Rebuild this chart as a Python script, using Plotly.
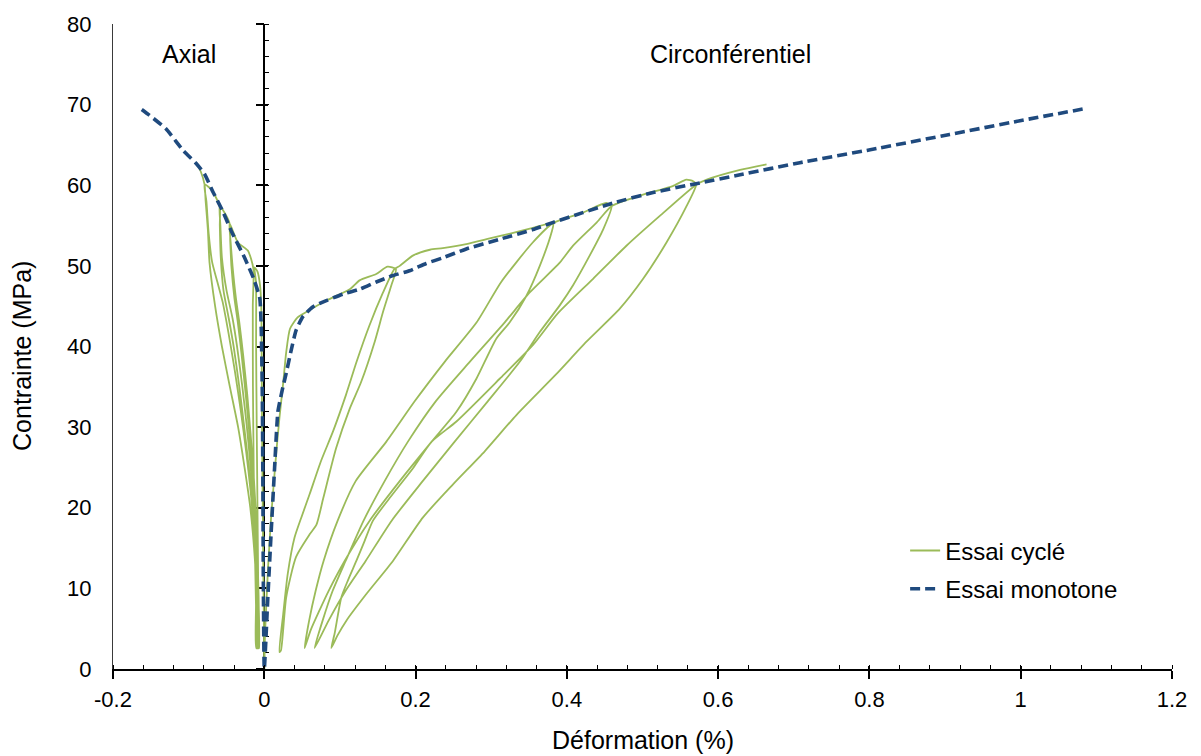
import plotly.graph_objects as go

FONT = "Liberation Sans, Arial, sans-serif"

# ---------------- data ----------------
# Monotone test: axial branch (negative strain) then circumferential branch
mono_x = [-0.162, -0.152, -0.130, -0.108, -0.090, -0.079, -0.068, -0.055, -0.044, -0.026,
          -0.014, -0.006, -0.004, -0.0026, -0.0018, -0.0012, 0.0,
          0.0045, 0.009, 0.0136, 0.018, 0.0235, 0.029, 0.035, 0.042, 0.051, 0.064,
          0.082, 0.104, 0.126, 0.148, 0.170, 0.192, 0.214, 0.236, 0.267, 0.311,
          0.355, 0.382, 0.421, 0.461, 0.514, 0.571, 0.629, 0.708, 0.801, 0.906,
          0.999, 1.085]
mono_y = [69.4, 68.7, 67.0, 64.4, 62.7, 61.4, 59.2, 56.8, 54.4, 51.0,
          48.4, 46.0, 42.2, 34.0, 22.1, 10.0, 0.0,
          8.5, 16.8, 24.9, 31.9, 34.5, 36.7, 39.3, 42.0, 43.7, 44.9,
          45.7, 46.5, 47.1, 48.0, 48.8, 49.4, 50.3, 51.0, 52.1, 53.3,
          54.5, 55.4, 56.6, 57.8, 59.1, 60.2, 61.3, 62.8, 64.4, 66.3,
          68.0, 69.5]

# Cyclic test, axial side (loading envelope with four unload/reload loops)
cyc_axial_x = [0.0, -0.001, -0.002, -0.003, -0.0035, -0.004, -0.0055, -0.009, -0.013,
               -0.0110, -0.0108, -0.0100, -0.0090, -0.0080, -0.0075,
               -0.0105, -0.0110, -0.0125, -0.0140, -0.0150, -0.0152, -0.0145,
               -0.0217, -0.0349, -0.046,
               -0.0445, -0.0420, -0.0375, -0.0330, -0.0280, -0.0225, -0.0180, -0.0140,
               -0.0110, -0.0090, -0.0075, -0.0070, -0.0070,
               -0.0080, -0.0080, -0.0085, -0.0100, -0.0125, -0.0155, -0.0195, -0.0245,
               -0.0300, -0.0350, -0.0395, -0.0435, -0.0450, -0.046,
               -0.0525, -0.059,
               -0.0580, -0.0560, -0.0500, -0.0420, -0.0360, -0.0290, -0.0230, -0.0180,
               -0.0140, -0.0110, -0.0090, -0.0080, -0.0080,
               -0.0090, -0.0090, -0.0100, -0.0125, -0.0160, -0.0205, -0.0265, -0.0330,
               -0.0405, -0.0470, -0.0540, -0.0575, -0.0588, -0.059,
               -0.0701, -0.079,
               -0.0765, -0.0735, -0.0690, -0.0620, -0.0550, -0.0470, -0.0390, -0.0310,
               -0.0240, -0.0180, -0.0135, -0.0105, -0.0090, -0.0088,
               -0.0097, -0.0098, -0.0105, -0.0135, -0.0185, -0.0261, -0.0346, -0.0455,
               -0.0560, -0.0650, -0.0724, -0.0746, -0.0775, -0.079,
               -0.084, -0.090]
cyc_axial_y = [0.0, 10.0, 20.0, 30.0, 40.0, 45.0, 47.5, 49.3, 49.8,
               48.0, 40.0, 30.0, 20.0, 10.0, 2.6,
               2.6, 8.0, 15.0, 25.0, 35.0, 45.0, 49.7,
               51.9, 52.9, 55.3,
               53.0, 50.0, 46.0, 43.0, 39.0, 34.0, 29.0, 24.0,
               19.0, 14.0, 9.0, 5.0, 2.6,
               2.6, 5.0, 9.0, 14.0, 19.0, 24.0, 29.0, 34.0,
               39.0, 43.0, 46.0, 50.0, 53.0, 55.3,
               56.6, 57.4,
               55.0, 51.0, 47.0, 43.5, 40.0, 35.0, 30.0, 25.0,
               20.0, 15.0, 10.0, 5.0, 2.6,
               2.6, 5.0, 10.0, 15.0, 20.0, 25.0, 30.0, 35.0,
               40.0, 43.5, 47.0, 51.0, 55.0, 57.4,
               59.5, 60.1,
               58.0, 54.0, 50.5, 48.0, 45.5, 41.5, 37.0, 32.0,
               27.0, 22.0, 17.0, 12.0, 7.0, 2.6,
               2.6, 5.0, 10.0, 15.0, 20.0, 25.0, 30.0, 35.0,
               40.0, 45.0, 50.4, 54.5, 58.0, 60.1,
               61.7, 62.8]

# Cyclic test, circumferential side
cyc_circ_x = [0.0, 0.001, 0.005, 0.009, 0.016, 0.020, 0.025, 0.029, 0.034, 0.044,
              0.056, 0.082, 0.113, 0.126, 0.148, 0.163, 0.174,
              0.168, 0.157, 0.146, 0.128, 0.113, 0.095, 0.078, 0.069, 0.060, 0.042,
              0.029, 0.022, 0.020,
              0.025, 0.031, 0.040, 0.049, 0.060, 0.075, 0.091, 0.108, 0.122, 0.139,
              0.157, 0.172,
              0.179, 0.197, 0.219, 0.236, 0.267, 0.298, 0.329, 0.355, 0.382,
              0.3796, 0.3642, 0.3466, 0.3245, 0.3069, 0.2804, 0.2540, 0.2213, 0.1790,
              0.1393, 0.1062, 0.0851, 0.0731, 0.0612, 0.0533,
              0.0593, 0.0679, 0.0784, 0.0970, 0.1208, 0.1614, 0.1988, 0.2385, 0.2808,
              0.3132, 0.3549, 0.3817,
              0.421, 0.452, 0.459,
              0.4479, 0.4303, 0.4082, 0.3906, 0.3642, 0.3377, 0.2954, 0.2517, 0.2094,
              0.1684, 0.1340, 0.1075, 0.0850, 0.0665,
              0.0771, 0.0904, 0.1075, 0.1313, 0.1591, 0.1899, 0.2266, 0.2716, 0.3179,
              0.3509, 0.3906, 0.4082, 0.4396, 0.4590,
              0.496, 0.540, 0.558, 0.567, 0.571,
              0.5582, 0.5317, 0.5008, 0.4700, 0.4259, 0.3853, 0.3333, 0.2914, 0.2495,
              0.2098, 0.1701, 0.1349, 0.1085, 0.0970, 0.0886,
              0.0930, 0.1019, 0.1106, 0.1217, 0.1327, 0.1437, 0.1657, 0.1966, 0.2213,
              0.2540, 0.3112, 0.3553, 0.3880, 0.4347, 0.4788, 0.5229, 0.5714,
              0.585, 0.629, 0.664]
cyc_circ_y = [0.0, 4.4, 12.6, 18.8, 27.0, 31.1, 35.5, 39.3, 42.2, 43.6,
              44.3, 45.7, 47.1, 48.2, 49.0, 49.9, 49.6,
              47.6, 44.3, 40.6, 35.6, 32.3, 27.4, 21.2, 17.9, 16.7, 13.9,
              8.9, 2.3, 2.1,
              6.8, 11.8, 16.3, 18.8, 21.7, 25.8, 29.5, 34.0, 38.1, 42.6,
              46.7, 49.6,
              50.0, 51.3, 52.0, 52.2, 52.7, 53.4, 54.1, 54.7, 55.3,
              54.1, 50.0, 46.3, 43.0, 41.0, 36.0, 31.9, 28.2, 23.3,
              18.4, 13.4, 9.7, 7.3, 4.8, 2.6,
              6.0, 9.7, 13.4, 18.4, 23.3, 28.2, 33.2, 38.1, 43.0,
              48.0, 52.9, 55.3,
              56.6, 57.8, 57.4,
              54.5, 51.3, 47.6, 45.1, 41.8, 38.1, 33.2, 28.2, 23.3,
              18.4, 13.4, 9.7, 6.0, 2.6,
              6.0, 9.7, 13.4, 18.4, 23.3, 28.2, 33.2, 38.1, 43.0,
              46.7, 50.4, 52.5, 55.4, 57.4,
              58.7, 59.9, 60.7, 60.5, 60.1,
              57.4, 52.9, 48.4, 44.7, 40.6, 36.5, 31.5, 27.0, 22.9,
              18.8, 13.4, 9.3, 6.0, 4.2, 2.6,
              4.4, 8.9, 11.0, 13.4, 15.9, 18.4, 21.2, 24.9, 28.2,
              30.7, 36.0, 40.2, 44.1, 48.4, 52.5, 56.2, 60.1,
              60.7, 61.9, 62.6]

x_tick_vals = [-0.2, 0.0, 0.2, 0.4, 0.6, 0.8, 1.0, 1.2]
x_tick_text = ["-0.2", "0", "0.2", "0.4", "0.6", "0.8", "1", "1.2"]
y_tick_vals = [0, 10, 20, 30, 40, 50, 60, 70, 80]
y_tick_text = ["0", "10", "20", "30", "40", "50", "60", "70", "80"]

series_names = ["Essai cyclé", "Essai monotone"]
region_labels = ["Axial", "Circonférentiel"]
x_title = "Déformation (%)"
y_title = "Contrainte (MPa)"

# ---------------- figure ----------------
GREEN = "#9BBB59"
BLUE = "#1F4A7E"

fig = go.Figure()

fig.add_trace(go.Scatter(
    x=cyc_axial_x + [None] + cyc_circ_x,
    y=cyc_axial_y + [None] + cyc_circ_y,
    mode="lines", name=series_names[0], legendgroup="g1",
    line=dict(color=GREEN, width=1.8, shape="spline", smoothing=0.6),
    connectgaps=False, hoverinfo="skip"))

fig.add_trace(go.Scatter(
    x=mono_x, y=mono_y, mode="lines", name=series_names[1], legendgroup="g2",
    line=dict(color=BLUE, width=3.6, dash="10px,5px", shape="spline", smoothing=0.5),
    hoverinfo="skip"))

# helper (empty) traces so the extra tick axes are drawn
for xa, ya in [("x2", "y"), ("x", "y2"), ("x", "y3")]:
    fig.add_trace(go.Scatter(x=[None], y=[None], xaxis=xa, yaxis=ya, showlegend=False,
                             hoverinfo="skip", mode="lines"))

tickfont = dict(family=FONT, size=22, color="black")

fig.update_layout(
    width=1201, height=756,
    margin=dict(l=113, r=29, t=20, b=87, pad=0),
    paper_bgcolor="white", plot_bgcolor="white",
    font=dict(family=FONT, size=22, color="black"),
    showlegend=True,
    legend=dict(x=0.748, y=0.218, xanchor="left", yanchor="top",
                bgcolor="rgba(0,0,0,0)", font=dict(family=FONT, size=24, color="black"),
                tracegroupgap=4, traceorder="grouped"),
    xaxis=dict(range=[-0.2, 1.2], tickmode="array", tickvals=x_tick_vals,
               ticktext=x_tick_text, ticks="outside", ticklen=8, tickwidth=1.5,
               tickcolor="black", showline=True, linecolor="black", linewidth=1.5,
               showgrid=False, zeroline=False, tickfont=tickfont,
               ticklabelstandoff=2,
               minor=dict(tickmode="linear", tick0=-0.2, dtick=0.04, ticks="inside",
                          ticklen=4, tickwidth=1, tickcolor="black", showgrid=False)),
    xaxis2=dict(range=[-0.2, 1.2], overlaying="x", anchor="y", side="bottom",
                tickmode="array", tickvals=x_tick_vals, ticks="inside", ticklen=3,
                tickwidth=1.5, tickcolor="black", showticklabels=False, showline=False,
                showgrid=False, zeroline=False),
    yaxis=dict(range=[0, 80], tickmode="array", tickvals=y_tick_vals, ticktext=y_tick_text,
               ticks="", showline=True, linecolor="#3a3a3a", linewidth=1.3,
               showgrid=False, zeroline=False, tickfont=tickfont, ticklabelstandoff=16),
    yaxis2=dict(range=[0, 80], overlaying="y", anchor="free", position=1/7, side="left",
                tickmode="array", tickvals=y_tick_vals, ticks="outside", ticklen=8,
                tickwidth=1.5, tickcolor="black", showticklabels=False, showline=True,
                linecolor="black", linewidth=1.5, showgrid=False, zeroline=False,
                layer="below traces",
                minor=dict(tickmode="linear", tick0=0, dtick=2, ticks="inside", ticklen=4,
                           tickwidth=1, tickcolor="black", showgrid=False)),
    yaxis3=dict(range=[0, 80], overlaying="y", anchor="free", position=1/7, side="left",
                tickmode="array", tickvals=y_tick_vals, ticks="inside", ticklen=3,
                tickwidth=1.5, tickcolor="black", showticklabels=False, showline=False,
                showgrid=False, zeroline=False, layer="below traces"),
    annotations=[
        dict(x=-0.100, y=76.3, xref="x", yref="y", text=region_labels[0], showarrow=False,
             xanchor="center", yanchor="middle",
             font=dict(family=FONT, size=25, color="black")),
        dict(x=0.616, y=76.3, xref="x", yref="y", text=region_labels[1], showarrow=False,
             xanchor="center", yanchor="middle",
             font=dict(family=FONT, size=25, color="black")),
        dict(x=0.5, y=-0.110, xref="paper", yref="paper", text=x_title, showarrow=False,
             xanchor="center", yanchor="middle",
             font=dict(family=FONT, size=25, color="black")),
        dict(x=-0.0859, y=0.4854, xref="paper", yref="paper", text=y_title, showarrow=False,
             xanchor="center", yanchor="middle", textangle=-90,
             font=dict(family=FONT, size=25, color="black")),
    ],
)

fig.write_html("out.html", config={"displayModeBar": False},
               post_script="document.body.style.margin='0';")
